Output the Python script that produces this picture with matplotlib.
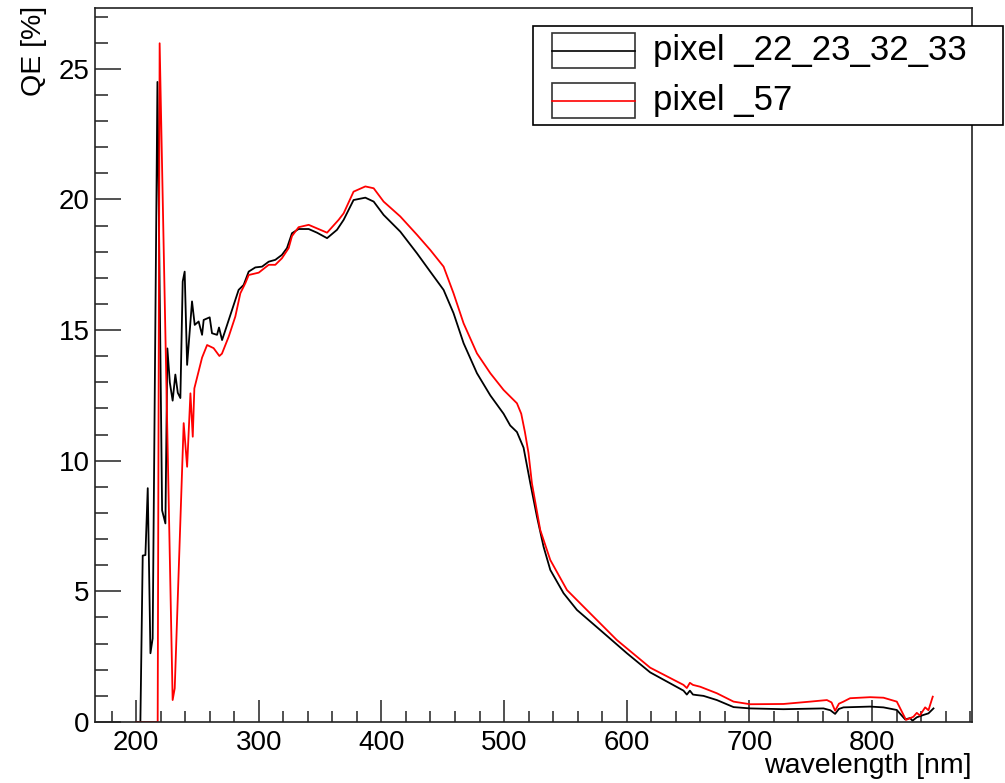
import matplotlib
matplotlib.use("Agg")
import matplotlib.pyplot as plt
from matplotlib.patches import Rectangle
from matplotlib.lines import Line2D
from matplotlib.ticker import MultipleLocator

# values
wl_black = [200, 203.5, 205.4, 207.6, 209.5, 211.7, 213.5, 217.4, 221.2, 223.9,
            225.5, 227.5, 229.8, 232, 234, 236.1, 238, 239.6, 241.6, 245.6,
            247.8, 251, 253.8, 255.1, 260, 261.9, 266, 267.6, 270.1, 272.8,
            278.2, 283.6, 287.7, 291.8, 297.2, 302.7, 308.1, 313.5, 318.9, 323,
            327.1, 332.5, 340.7, 347.5, 355.7, 363.8, 369.2, 377.3, 386.9, 393.7,
            401.8, 415.4, 429, 439.8, 450.7, 458.8, 467, 477.9, 488.8, 499.6,
            505, 510.5, 515.9, 521.4, 526.8, 532.2, 537.7, 548.5, 559.4, 578.4,
            600.2, 619.1, 646.3, 649, 651.5, 654, 657.2, 662.6, 673.5, 687.1,
            700.6, 727.8, 760.4, 766, 769.9, 773, 776.7, 798.4, 809.3, 820.2,
            827, 831, 833, 836.5, 841.9, 846, 850.1]
qe_black = [0, 0, 6.37, 6.39, 8.95, 2.63, 3.2, 24.5, 8.1, 7.6,
            14.3, 13.0, 12.3, 13.3, 12.6, 12.4, 16.86, 17.24, 13.67, 16.1,
            15.2, 15.33, 14.82, 15.39, 15.49, 14.88, 14.82, 15.1, 14.62, 15.0,
            15.77, 16.54, 16.73, 17.24, 17.4, 17.43, 17.62, 17.69, 17.88, 18.14,
            18.71, 18.87, 18.87, 18.73, 18.52, 18.84, 19.22, 19.98, 20.07, 19.92,
            19.41, 18.77, 17.94, 17.24, 16.54, 15.65, 14.5, 13.35, 12.5, 11.8,
            11.35, 11.1, 10.5, 9.14, 7.86, 6.71, 5.82, 4.93, 4.29, 3.52,
            2.63, 1.9, 1.2, 1.05, 1.2, 1.05, 1.03, 1.0, 0.84, 0.57,
            0.52, 0.49, 0.52, 0.45, 0.31, 0.5, 0.56, 0.59, 0.56, 0.46,
            0.1, 0.15, 0.05, 0.18, 0.27, 0.33, 0.52]

wl_red = [200, 217.6, 219.2, 229.8, 231.5, 238.8, 241.6, 244.3, 246.2, 247.5,
          253.8, 257.9, 263.2, 267.9, 270, 275.5, 280.9, 285, 289.1, 291.8,
          300, 302.7, 308.1, 313.5, 318.9, 324.4, 327.1, 332.5, 340.7, 355.7,
          365.1, 369.2, 377.3, 386.9, 393.7, 401.8, 415.4, 429, 439.8, 450.7,
          458.8, 467, 477.9, 488.8, 499.6, 510.5, 514, 517, 519.9, 522.7,
          529.5, 537.7, 551.3, 570.2, 591.9, 619.1, 646.3, 649, 651.5, 654,
          659.9, 673.5, 687.1, 700.6, 727.8, 749.6, 763.2, 767, 769.9, 773,
          776.7, 782.1, 798.4, 809.3, 820.2, 827.7, 833.7, 836.5, 839, 843.3,
          846, 849.5]
qe_red = [0, 0, 25.98, 0.84, 1.29, 11.44, 9.77, 12.58, 10.92, 12.77,
          13.95, 14.43, 14.31, 14.01, 14.1, 14.75, 15.52, 16.41, 16.8, 17.11,
          17.2, 17.3, 17.5, 17.5, 17.75, 18.14, 18.6, 18.94, 19.03, 18.73,
          19.22, 19.47, 20.3, 20.5, 20.43, 19.92, 19.35, 18.65, 18.07, 17.43,
          16.41, 15.26, 14.11, 13.35, 12.71, 12.2, 11.8, 11.1, 10.3, 9.14,
          7.35, 6.2, 5.05, 4.16, 3.14, 2.08, 1.42, 1.3, 1.5, 1.42,
          1.35, 1.1, 0.78, 0.68, 0.69, 0.78, 0.84, 0.75, 0.43, 0.7,
          0.78, 0.91, 0.95, 0.93, 0.78, 0.08, 0.2, 0.35, 0.25, 0.56,
          0.45, 0.97]

labels = ["pixel _22_23_32_33", "pixel _57"]
colors = ["black", "red"]

plt.rcParams['font.family'] = ['Liberation Sans', 'DejaVu Sans']

W, H = 1005, 783
fig = plt.figure(figsize=(W / 100, H / 100), dpi=100)
ax = fig.add_axes([95 / W, 1 - 722 / H, (972 - 95) / W, (722 - 8) / H])

ax.plot(wl_black, qe_black, color=colors[0], lw=1.3)
ax.plot(wl_red, qe_red, color=colors[1], lw=1.3)

ax.set_xlim(166.5, 881.5)
ax.set_ylim(0, 27.33)

ax.xaxis.set_major_locator(MultipleLocator(100))
ax.xaxis.set_minor_locator(MultipleLocator(20))
ax.yaxis.set_major_locator(MultipleLocator(5))
ax.yaxis.set_minor_locator(MultipleLocator(1))
ax.tick_params(axis='both', which='both', direction='in', top=False, right=False,
               labelsize=20, width=1.1, color='#222222')
ax.tick_params(axis='y', which='major', length=19, pad=4)
ax.tick_params(axis='y', which='minor', length=9.6)
ax.tick_params(axis='x', which='major', length=15.6, pad=6)
ax.tick_params(axis='x', which='minor', length=7.7)
for s in ax.spines.values():
    s.set_linewidth(1.2)
    s.set_color('#222222')

fig.text(972 / W, 1 - 773 / H, "wavelength [nm]", ha='right', va='baseline', fontsize=20.5)
fig.text(34 / W, 1 - 6 / H, "QE [%]", ha='center', va='top', rotation=90,
         fontsize=20.5)

# legend box, ROOT style
def px_rect(x0, y0, x1, y1, **kw):
    r = Rectangle((x0 / W, 1 - y1 / H), (x1 - x0) / W, (y1 - y0) / H,
                  transform=fig.transFigure, **kw)
    fig.add_artist(r)

px_rect(533, 26, 1003, 125, facecolor='white', edgecolor='black', lw=1.2, zorder=5)
for i, (lab, c) in enumerate(zip(labels, colors)):
    y0 = 33 + i * 50
    px_rect(552, y0, 635, y0 + 35, facecolor='white', edgecolor='#333333', lw=1.2, zorder=6)
    yc = 1 - (y0 + 17.5) / H
    fig.add_artist(Line2D([552 / W, 635 / W], [yc, yc], color=c, lw=1.2,
                          transform=fig.transFigure, zorder=7))
    fig.text(653 / W, yc, lab, ha='left', va='center', fontsize=25, zorder=8)

fig.savefig("out.png", dpi=100)
